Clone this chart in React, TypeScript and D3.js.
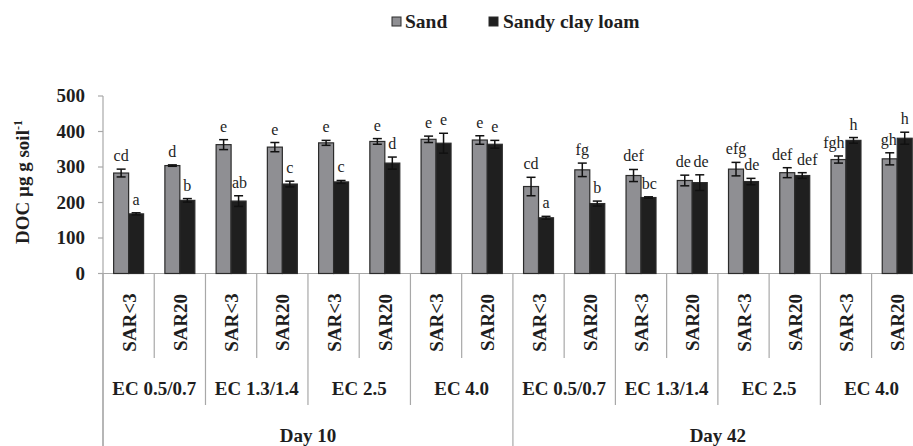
import React from "react";
import * as d3 from "d3";

const sarLabels = ["SAR<3", "SAR20", "SAR<3", "SAR20", "SAR<3", "SAR20", "SAR<3", "SAR20", "SAR<3", "SAR20", "SAR<3", "SAR20", "SAR<3", "SAR20", "SAR<3", "SAR20"];
const ecLabels = ["EC 0.5/0.7", "EC 1.3/1.4", "EC 2.5", "EC 4.0", "EC 0.5/0.7", "EC 1.3/1.4", "EC 2.5", "EC 4.0"];
const dayLabels = ["Day 10", "Day 42"];
const seriesNames = ["Sand", "Sandy clay loam"];

const sandValues = [283, 304, 363, 356, 368, 372, 378, 376, 245, 292, 276, 262, 294, 284, 321, 323];
const sandErrors = [11, 2, 14, 13, 7, 8, 9, 12, 26, 19, 17, 15, 19, 14, 10, 17];
const sandLetters = ["cd", "d", "e", "e", "e", "e", "e", "e", "cd", "fg", "def", "de", "efg", "def", "fgh", "gh"];

const clayValues = [168, 206, 204, 252, 258, 311, 367, 364, 157, 197, 214, 256, 259, 276, 375, 381];
const clayErrors = [3, 5, 15, 8, 4, 17, 28, 11, 4, 7, 2, 22, 9, 8, 8, 17];
const clayLetters = ["a", "b", "ab", "c", "c", "d", "e", "e", "a", "b", "bc", "de", "de", "def", "h", "h"];

const yTicks = [0, 100, 200, 300, 400, 500];

const W = 913;
const H = 446;
const FONT = "'Liberation Serif', 'Times New Roman', Times, serif";
const SAND_FILL = "#8f8f93";
const CLAY_FILL = "#1f1f1f";
const BAR_STROKE = "#2b2b2b";
const AXIS = "#a8a8a8";
const TEXT = "#1e1e1e";

export default function App() {
  const axisX = 103;
  const step = 51.24;
  const n = sarLabels.length;
  const x0 = d3.scaleBand<number>().domain(d3.range(n)).range([axisX, axisX + n * step]).padding(0);
  const x1 = d3.scaleBand<string>().domain(seriesNames).range([0, x0.bandwidth()]).paddingInner(0).paddingOuter(0.71);
  const y = d3.scaleLinear().domain([0, 500]).range([273.5, 96]);
  const y0 = y(0);
  const bw = x1.bandwidth();

  const series = [
    { name: seriesNames[0], values: sandValues, errors: sandErrors, letters: sandLetters, fill: SAND_FILL },
    { name: seriesNames[1], values: clayValues, errors: clayErrors, letters: clayLetters, fill: CLAY_FILL },
  ];

  // label placement with simple collision avoidance within a category
  const charW = 7.4;
  const labelPos = d3.range(n).map((i) => {
    const pos = series.map((s) => {
      const bx = (x0(i) as number) + (x1(s.name) as number);
      const cx = bx + bw / 2;
      const yy = y(s.values[i] + s.errors[i]) - 8;
      const w = s.letters[i].length * charW;
      return { x: cx, y: yy, w, bx };
    });
    const [a, b] = pos;
    // sand label vs taller clay bar
    if (y(clayValues[i] + clayErrors[i]) < a.y) {
      const limit = b.bx - 1;
      if (a.x + a.w / 2 > limit) a.x = limit - a.w / 2;
    }
    // clay label vs taller sand bar
    if (y(sandValues[i] + sandErrors[i]) < b.y) {
      const limit = a.bx + bw + 1;
      if (b.x - b.w / 2 < limit) b.x = limit + b.w / 2;
    }
    if (Math.abs(a.y - b.y) < 14) {
      const gap = b.x - b.w / 2 - (a.x + a.w / 2);
      if (gap < 3) {
        const shift = (3 - gap) / 2;
        a.x -= shift;
        b.x += shift;
      }
    }
    return pos;
  });

  const separators = d3.range(0, n).map((i) => {
    const x = x0(i) as number;
    let bottom = 358;
    if (i % 8 === 0) bottom = H;
    else if (i % 2 === 0) bottom = 405;
    return { x, bottom };
  });

  return (
    <svg width={W} height={H} style={{ position: "absolute", left: 0, top: 0, display: "block", fontFamily: FONT }}>
      <rect x={0} y={0} width={W} height={H} fill="#fff" />
      {/* legend */}
      <g fontWeight="bold" fontSize={19.5} fill={TEXT} style={{ fontFamily: FONT }}>
        <rect x={392} y={17} width={9} height={9} fill={SAND_FILL} stroke={BAR_STROKE} strokeWidth={1} />
        <text x={405} y={28.3}>{seriesNames[0]}</text>
        <rect x={489} y={17} width={9} height={9} fill={CLAY_FILL} stroke={BAR_STROKE} strokeWidth={1} />
        <text x={503} y={28.3}>{seriesNames[1]}</text>
      </g>

      {/* y axis */}
      <line x1={axisX} x2={axisX} y1={y(500)} y2={H} stroke={AXIS} strokeWidth={1.2} />
      {yTicks.map((t) => (
        <g key={t}>
          <line x1={axisX - 5} x2={axisX} y1={y(t)} y2={y(t)} stroke={AXIS} strokeWidth={1.2} />
          <text x={85} y={y(t)} dy="0.33em" textAnchor="end" fontWeight="bold" fontSize={19} fill={TEXT} style={{ fontFamily: FONT }}>
            {t}
          </text>
        </g>
      ))}
      <text transform={`translate(28.5,182) rotate(-90)`} textAnchor="middle" fontWeight="bold" fontSize={19} fill={TEXT} style={{ fontFamily: FONT }}>
        <tspan>DOC µg g soil</tspan>
        <tspan fontSize={12} dy={-7}>-1</tspan>
      </text>

      {/* x axis */}
      <line x1={axisX} x2={W} y1={y0} y2={y0} stroke={AXIS} strokeWidth={1.2} />
      {separators.map((s, i) => (
        <line key={i} x1={s.x} x2={s.x} y1={y0} y2={s.bottom} stroke={AXIS} strokeWidth={1.2} />
      ))}

      {/* bars */}
      {series.map((s, si) => (
        <g key={s.name}>
          {s.values.map((v, i) => {
            const bx = (x0(i) as number) + (x1(s.name) as number);
            const top = y(v);
            const cx = bx + bw / 2;
            const eTop = y(v + s.errors[i]);
            const eBot = y(v - s.errors[i]);
            const lp = labelPos[i][si];
            return (
              <g key={i}>
                <rect x={bx} y={top} width={bw} height={y0 - top} fill={s.fill} stroke={BAR_STROKE} strokeWidth={1.2} />
                <line x1={cx} x2={cx} y1={eTop} y2={eBot} stroke="#111" strokeWidth={1.5} />
                <line x1={cx - 4.5} x2={cx + 4.5} y1={eTop} y2={eTop} stroke="#111" strokeWidth={1.5} />
                <line x1={cx - 4.5} x2={cx + 4.5} y1={eBot} y2={eBot} stroke="#111" strokeWidth={1.5} />
                <text x={lp.x} y={lp.y} textAnchor="middle" fontSize={16} fill={TEXT} style={{ fontFamily: FONT }}>
                  {s.letters[i]}
                </text>
              </g>
            );
          })}
        </g>
      ))}

      {/* category labels */}
      <g fontWeight="bold" fontSize={19} fill={TEXT} style={{ fontFamily: FONT }}>
        {sarLabels.map((l, i) => {
          const cx = (x0(i) as number) + step / 2;
          return (
            <text key={i} transform={`translate(${cx + 7},322.5) rotate(-90)`} textAnchor="middle">
              {l}
            </text>
          );
        })}
        {ecLabels.map((l, g) => (
          <text key={g} x={(x0(g * 2) as number) + step} y={395} textAnchor="middle">
            {l}
          </text>
        ))}
        {dayLabels.map((l, d) => (
          <text key={d} x={(x0(d * 8) as number) + step * 4} y={441.7} textAnchor="middle">
            {l}
          </text>
        ))}
      </g>
    </svg>
  );
}
